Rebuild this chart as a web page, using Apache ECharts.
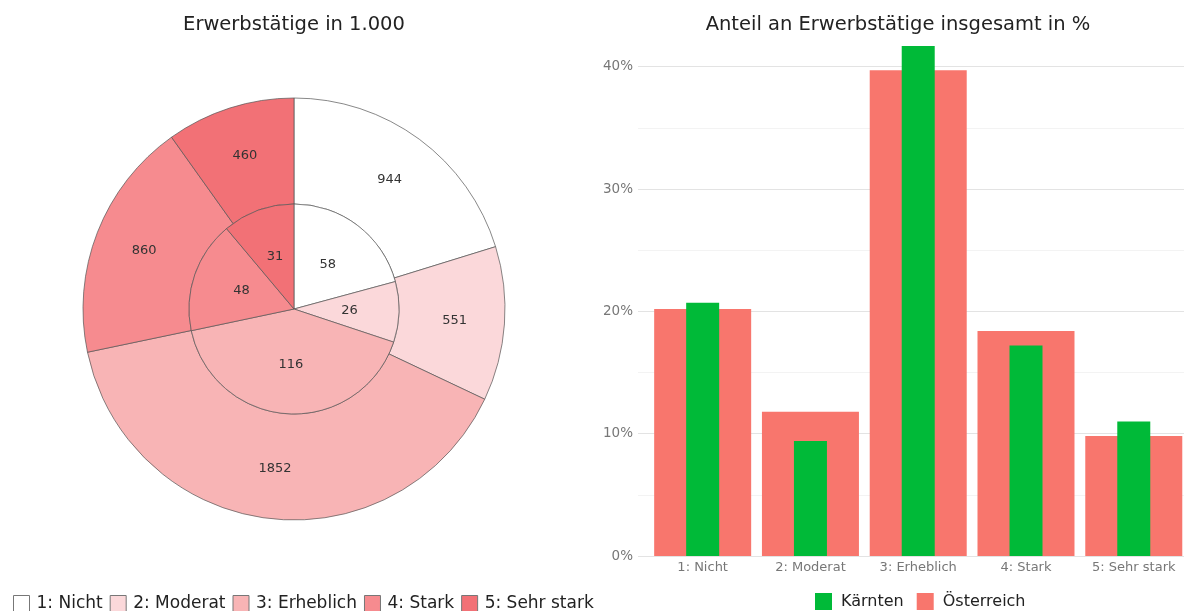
<!DOCTYPE html>
<html>
<head>
<meta charset="utf-8">
<script src="https://cdn.jsdelivr.net/npm/echarts@6/dist/echarts.min.js"></script>
<style>
  html, body { margin: 0; padding: 0; background: #fff; }
  #chart { width: 1184px; height: 611px; }
</style>
</head>
<body>
<div id="chart"></div>
<script>
// Kategorien (Belastung)
var categories = ["1: Nicht", "2: Moderat", "3: Erheblich", "4: Stark", "5: Sehr stark"];
// Erwerbstätige in 1.000
var oesterreichAbs = [944, 551, 1852, 860, 460];
var kaerntenAbs = [58, 26, 116, 48, 31];
var kaerntenPct = [20.7, 9.4, 41.7, 17.2, 11.0];
var oesterreichPct = [20.2, 11.8, 39.7, 18.4, 9.8];
// Farben
var pieColors = ["#ffffff", "#fbd8da", "#f8b4b5", "#f68b8f", "#f27176"];

var FONT = "DejaVu Sans";

var chart = echarts.init(document.getElementById("chart"));

function pieData(values) {
  return values.map(function (v, i) {
    return { name: categories[i], value: v, itemStyle: { color: pieColors[i] } };
  });
}
function barData(values) {
  return values.map(function (v, i) {
    return [i + 1, v / 100];
  });
}

var pieLabel = {
  show: true,
  position: "inside",
  color: "#333",
  fontSize: 13,
  fontFamily: FONT,
  formatter: "{c}"
};
var pieItem = { borderColor: "#555", borderWidth: 0.7 };

var option = {
  animation: false,
  textStyle: { fontFamily: FONT },
  title: [
    {
      text: "Erwerbstätige in 1.000",
      left: 294, top: 15, textAlign: "center", padding: 0,
      textStyle: { fontSize: 19.5, fontWeight: "normal", color: "#222", fontFamily: FONT }
    },
    {
      text: "Anteil an Erwerbstätige insgesamt in %",
      left: 898, top: 15, textAlign: "center", padding: 0,
      textStyle: { fontSize: 19.5, fontWeight: "normal", color: "#222", fontFamily: FONT }
    }
  ],
  legend: [
    {
      data: categories,
      left: 13, top: 595, padding: 0,
      itemWidth: 16, itemHeight: 16, itemGap: 7,
      icon: "rect",
      itemStyle: { borderColor: "#777", borderWidth: 1 },
      textStyle: { fontSize: 17, color: "#222", fontFamily: FONT, padding: [0, 0, 0, 2] }
    },
    {
      data: ["Kärnten", "Österreich"],
      left: 815, top: 593, padding: 0,
      itemWidth: 17, itemHeight: 17, itemGap: 13,
      icon: "rect",
      textStyle: { fontSize: 16, color: "#222", fontFamily: FONT, padding: [0, 0, 0, 4] }
    }
  ],
  grid: { left: 638, top: 30, width: 546, height: 526, containLabel: false },
  xAxis: [
    {
      type: "value", min: 0.4, max: 5.466,
      axisLine: { show: false },
      axisTick: { show: false },
      splitLine: { show: false },
      axisLabel: {
        customValues: [1, 2, 3, 4, 5],
        formatter: function (v) { return categories[Math.round(v) - 1] || ""; },
        color: "#777", fontSize: 13, fontFamily: FONT, margin: 5
      }
    },
    {
      type: "value", min: 0.4, max: 5.466, show: false
    }
  ],
  yAxis: {
    type: "value", min: 0, max: 0.43, interval: 0.05,
    axisLine: { show: false },
    axisTick: { show: false },
    axisLabel: {
      showMaxLabel: false,
      color: "#777", fontSize: 13.5, fontFamily: FONT, margin: 5,
      formatter: function (v) {
        var p = Math.round(v * 100);
        return p % 10 === 0 ? p + "%" : "";
      }
    },
    splitLine: {
      show: true, showMaxLine: false,
      lineStyle: { color: ["#e3e3e3", "#f3f3f3"], width: 1 }
    }
  },
  series: [
    {
      name: "Österreich-Anteil",
      type: "pie",
      center: [294, 309],
      radius: [105, 211],
      startAngle: 90,
      clockwise: true,
      label: pieLabel,
      labelLine: { show: false },
      itemStyle: pieItem,
      emphasis: { disabled: true },
      data: pieData(oesterreichAbs)
    },
    {
      name: "Kärnten-Anteil",
      type: "pie",
      center: [294, 309],
      radius: [0, 105],
      startAngle: 90,
      clockwise: true,
      label: pieLabel,
      labelLine: { show: false },
      itemStyle: pieItem,
      emphasis: { disabled: true },
      data: pieData(kaerntenAbs)
    },
    {
      name: "Österreich",
      type: "bar",
      xAxisIndex: 0,
      barWidth: 97,
      itemStyle: { color: "#f8766d" },
      data: barData(oesterreichPct)
    },
    {
      name: "Kärnten",
      type: "bar",
      xAxisIndex: 1,
      barWidth: 33,
      itemStyle: { color: "#00ba38" },
      data: barData(kaerntenPct)
    }
  ]
};

chart.setOption(option);
</script>
</body>
</html>
